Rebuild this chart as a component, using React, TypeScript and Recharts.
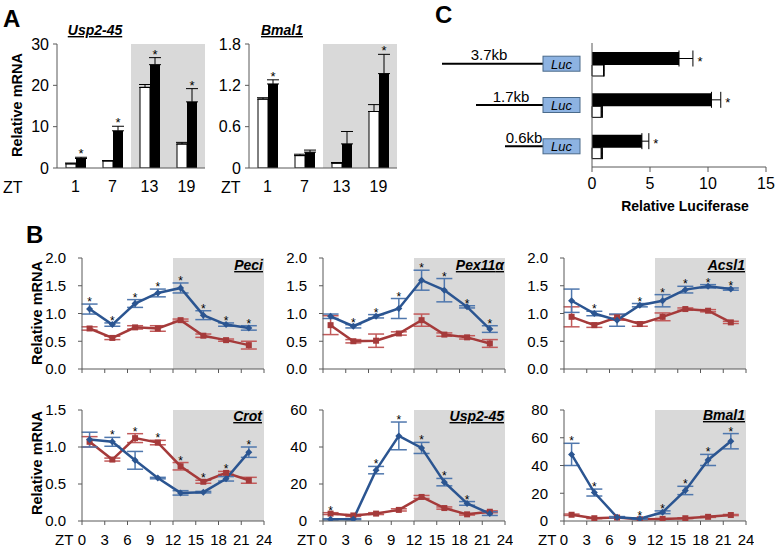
import React from "react";
import {
  BarChart, Bar, LineChart, Line, XAxis, YAxis, ErrorBar,
  ReferenceArea, LabelList,
} from "recharts";

const FONT = "'Liberation Sans', Arial, Helvetica, sans-serif";
const GREY = "#d9d9d9";
const BLUE = "#2b5591";
const BLUE_ERR = "#4f77ad";
const RED = "#a53a3a";
const RED_ERR = "#c25a5a";
const AXIS = "#595959";

// ---- panel A (bars, ZT groups) ----
const ztA = ["1", "7", "13", "19"];
const usp2White = [1.0, 1.7, 19.5, 5.8];
const usp2WhiteErr = [0.2, 0.1, 0.7, 0.4];
const usp2Black = [2.3, 9.0, 25.0, 16.0];
const usp2BlackErr = [0.3, 1.1, 1.7, 3.2];
const usp2Star = [true, true, true, true];
const bmalWhite = [1.0, 0.18, 0.07, 0.82];
const bmalWhiteErr = [0.02, 0.02, 0.01, 0.1];
const bmalBlack = [1.22, 0.23, 0.35, 1.37];
const bmalBlackErr = [0.06, 0.03, 0.18, 0.28];
const bmalStar = [true, false, false, true];

// ---- panel C (luciferase) ----
const constructs = ["3.7kb", "1.7kb", "0.6kb"];
const lucBlack = [7.5, 10.3, 4.3];
const lucBlackErr = [1.2, 0.8, 0.6];
const lucWhite = [1.0, 0.8, 0.8];
const lucWhiteErr = [0.05, 0.1, 0.1];
const lucTicks = [0, 5, 10, 15];

// ---- panel B (time courses) ----
const zt = [1, 4, 7, 10, 13, 16, 19, 22];
const ztTicks = [0, 3, 6, 9, 12, 15, 18, 21, 24];

const peciBlue = [1.08, 0.8, 1.18, 1.37, 1.46, 0.97, 0.8, 0.74];
const peciBlueErr = [0.09, 0.03, 0.07, 0.07, 0.09, 0.08, 0.03, 0.04];
const peciRed = [0.73, 0.56, 0.75, 0.73, 0.88, 0.6, 0.52, 0.43];
const peciRedErr = [0.03, 0.03, 0.03, 0.05, 0.02, 0.03, 0.02, 0.07];
const peciStar = [1, 1, 1, 1, 1, 1, 1, 1];

const pexBlue = [0.95, 0.77, 0.95, 1.09, 1.6, 1.42, 1.12, 0.72];
const pexBlueErr = [0.04, 0.03, 0.03, 0.18, 0.18, 0.21, 0.02, 0.06];
const pexRed = [0.79, 0.5, 0.51, 0.64, 0.88, 0.62, 0.57, 0.46];
const pexRedErr = [0.17, 0.03, 0.12, 0.03, 0.11, 0.03, 0.03, 0.07];
const pexStar = [0, 1, 1, 1, 1, 1, 1, 1];

const acslBlue = [1.23, 1.0, 0.88, 1.15, 1.23, 1.43, 1.49, 1.44];
const acslBlueErr = [0.21, 0.04, 0.11, 0.03, 0.11, 0.06, 0.03, 0.02];
const acslRed = [0.94, 0.79, 0.93, 0.81, 0.94, 1.08, 1.05, 0.84];
const acslRedErr = [0.18, 0.04, 0.05, 0.04, 0.07, 0.02, 0.02, 0.02];
const acslStar = [0, 1, 0, 1, 1, 1, 1, 1];

const crotBlue = [1.1, 1.07, 0.82, 0.58, 0.38, 0.39, 0.57, 0.93];
const crotBlueErr = [0.1, 0.06, 0.12, 0.01, 0.03, 0.01, 0.03, 0.07];
const crotRed = [1.07, 0.83, 1.12, 1.06, 0.74, 0.53, 0.65, 0.55];
const crotRedErr = [0.07, 0.02, 0.06, 0.03, 0.05, 0.02, 0.02, 0.04];
const crotStar = [0, 1, 1, 1, 1, 1, 1, 1];

const uspBlue = [0.9, 1.0, 27.5, 46, 39.5, 21, 9.5, 4];
const uspBlueErr = [0.3, 0.3, 2, 7.5, 3, 2, 1, 1];
const uspRed = [4, 3, 4, 6, 13, 7, 3.6, 5];
const uspRedErr = [0.5, 0.5, 0.5, 0.6, 0.8, 0.6, 0.4, 0.5];
const uspStar = [1, 0, 1, 1, 1, 1, 1, 0];

const bmalBlue = [48, 20.5, 2.7, 1.7, 6.3, 22, 44, 57.5];
const bmalBlueErr = [8, 2.5, 0.5, 0.5, 1, 3, 4, 5.5];
const bmalRed = [4.5, 2, 2.5, 1.2, 1.5, 2, 3, 4.3];
const bmalRedErr = [0.5, 0.3, 0.3, 0.2, 0.2, 0.3, 0.4, 0.4];
const bmalBStar = [1, 1, 0, 1, 1, 1, 1, 1];

const box = (p: any) => (p.viewBox && p.viewBox.width !== undefined ? p.viewBox : p);
const blank = () => "";

function BarsA({ left, white, whiteErr, black, blackErr, star, yMax, yTicks, fmt }: any) {
  const data = ztA.map((c, i) => ({
    c, i, w: white[i], we: [0, whiteErr[i]], b: black[i], be: [0, blackErr[i]], s: star[i],
  }));
  const starAbove = (p: any) => {
    const r = data[p.value];
    if (!r || !r.s) return null;
    const v = box(p);
    const k = v.height / r.b;
    return (
      <text x={v.x + v.width / 2} y={v.y - r.be[1] * k + 1} textAnchor="middle" fontSize={13} fill="#000">*</text>
    );
  };
  return (
    <div style={{ position: "absolute", left, top: 34 }}>
      <BarChart width={200} height={164} data={data} margin={{ top: 10, right: 5, left: 0, bottom: 0 }} barGap={0} barSize={10}>
        <ReferenceArea x1="13" x2="19" fill={GREY} fillOpacity={1} stroke="none" />
        {/* group-boundary tick marks */}
        <XAxis xAxisId="edge" type="number" domain={[0, 4]} ticks={[0, 1, 2, 3, 4]} height={0}
          axisLine={false} tickSize={4} stroke={AXIS} tickFormatter={blank} />
        <XAxis dataKey="c" height={30} tickLine={false} tickMargin={7} stroke={AXIS}
          tick={{ fontSize: 16, fill: "#000", fontFamily: FONT }} />
        <YAxis width={47} domain={[0, yMax]} ticks={yTicks} tickFormatter={fmt} tickSize={4} tickMargin={4}
          stroke={AXIS} tick={{ fontSize: 16, fill: "#000", fontFamily: FONT }} allowDataOverflow />
        <Bar dataKey="w" fill="#fff" stroke="#000" strokeWidth={1} isAnimationActive={false}>
          <ErrorBar dataKey="we" width={6} stroke="#000" strokeWidth={1} />
        </Bar>
        <Bar dataKey="b" fill="#000" isAnimationActive={false}>
          <ErrorBar dataKey="be" width={6} stroke="#000" strokeWidth={1} />
          <LabelList dataKey="i" content={starAbove} />
        </Bar>
      </BarChart>
    </div>
  );
}

function Luciferase() {
  const data = constructs.map((c, i) => ({
    c, i, b: lucBlack[i], be: [0, lucBlackErr[i]], w: lucWhite[i], we: [0, lucWhiteErr[i]],
  }));
  const starRight = (p: any) => {
    const r = data[p.value];
    if (!r) return null;
    const v = box(p);
    const k = v.width / r.b;
    return (
      <text x={v.x + v.width + r.be[1] * k + 7} y={v.y + v.height / 2 + 7} textAnchor="middle" fontSize={13} fill="#000">*</text>
    );
  };
  return (
    <div style={{ position: "absolute", left: 560, top: 33 }}>
      <BarChart layout="vertical" width={216} height={164} data={data} margin={{ top: 10, right: 10, left: 0, bottom: 0 }} barGap={0}>
        <XAxis type="number" domain={[0, 15]} ticks={lucTicks} height={30} tickSize={5} tickMargin={6}
          stroke={AXIS} tick={{ fontSize: 16, fill: "#000", fontFamily: FONT }} />
        <YAxis yAxisId="edge" type="number" domain={[0, 3]} ticks={[0, 1, 2, 3]} width={0}
          axisLine={false} tickSize={4} stroke={AXIS} tickFormatter={blank} />
        <YAxis type="category" dataKey="c" width={32} tick={false} stroke={AXIS} />
        <Bar dataKey="b" fill="#000" barSize={13} isAnimationActive={false}>
          <ErrorBar dataKey="be" direction="x" width={8} stroke="#000" strokeWidth={1} />
          <LabelList dataKey="i" content={starRight} />
        </Bar>
        <Bar dataKey="w" fill="#fff" stroke="#000" strokeWidth={1} barSize={11} isAnimationActive={false}>
          <ErrorBar dataKey="we" direction="x" width={6} stroke="#000" strokeWidth={1} />
        </Bar>
      </BarChart>
    </div>
  );
}

const diamond = (p: any) =>
  p.cx == null ? <g key={p.index} /> : (
    <path key={p.index} d={`M${p.cx},${p.cy - 3.5}L${p.cx + 3.5},${p.cy}L${p.cx},${p.cy + 3.5}L${p.cx - 3.5},${p.cy}Z`} fill={BLUE} />
  );
const square = (p: any) =>
  p.cx == null ? <g key={p.index} /> : (
    <rect key={p.index} x={p.cx - 3} y={p.cy - 3} width={6} height={6} fill={RED} />
  );
const starDot = (p: any) =>
  p.cx == null || p.cy == null || p.payload.sy == null ? <g key={p.index} /> : (
    <text key={p.index} x={p.cx} y={p.cy + 2} textAnchor="middle" fontSize={12} fill="#000" fontFamily={FONT}>*</text>
  );

function Course({ left, top, blue, blueErr, red, redErr, star, yMax, yTicks, fmt, showX }: any) {
  const data = zt.map((z, i) => ({
    z, b: blue[i], be: blueErr[i], r: red[i], re: redErr[i],
    sy: star[i] ? Math.max(blue[i] + blueErr[i], red[i] + redErr[i]) : null,
  }));
  const tick = { fontSize: 15, fill: "#000", fontFamily: FONT };
  return (
    <div style={{ position: "absolute", left: left - 50, top: top - 10 }}>
      <LineChart width={240} height={151} data={data} margin={{ top: 10, right: 8, left: 0, bottom: 0 }}>
        <ReferenceArea x1={12} x2={24} fill={GREY} fillOpacity={1} stroke="none" />
        <XAxis type="number" dataKey="z" domain={[0, 24]} ticks={ztTicks} interval={0} tickSize={4} tickMargin={9}
          height={30} stroke={AXIS} tick={tick} tickFormatter={showX ? undefined : blank} allowDataOverflow />
        <YAxis width={50} domain={[0, yMax]} ticks={yTicks} tickFormatter={fmt} tickSize={4} tickMargin={12}
          stroke={AXIS} tick={tick} allowDataOverflow />
        <Line dataKey="r" type="linear" stroke={RED} strokeWidth={2.5} dot={square} activeDot={false} isAnimationActive={false}>
          <ErrorBar dataKey="re" width={8} stroke={RED_ERR} strokeWidth={1.5} />
        </Line>
        <Line dataKey="b" type="linear" stroke={BLUE} strokeWidth={2.5} dot={diamond} activeDot={false} isAnimationActive={false}>
          <ErrorBar dataKey="be" width={8} stroke={BLUE_ERR} strokeWidth={1.5} />
        </Line>
        <Line dataKey="sy" stroke="none" dot={starDot} activeDot={false} isAnimationActive={false} />
      </LineChart>
    </div>
  );
}

const f1 = (v: number) => v.toFixed(1);
const f0 = (v: number) => String(v);
const unit = [0, 0.5, 1, 1.5, 2];

function GeneTitle({ x, y, children }: any) {
  return (
    <text x={x} y={y} textAnchor="end" fontSize={14} fontWeight="bold" fontStyle="italic"
      style={{ textDecoration: "underline" }} fill="#000">{children}</text>
  );
}

export default function App() {
  const rows = [63.7, 105, 146.3];
  const starts = [442, 476, 505];
  const labelX = [489, 511, 524];
  const labelY = [60, 102, 143];
  return (
    <div style={{ position: "absolute", left: 0, top: 0, width: 778, height: 547, background: "#fff", fontFamily: FONT, overflow: "hidden" }}>
      <BarsA left={10} white={usp2White} whiteErr={usp2WhiteErr} black={usp2Black} blackErr={usp2BlackErr}
        star={usp2Star} yMax={30} yTicks={[0, 10, 20, 30]} fmt={f0} />
      <BarsA left={202} white={bmalWhite} whiteErr={bmalWhiteErr} black={bmalBlack} blackErr={bmalBlackErr}
        star={bmalStar} yMax={1.8} yTicks={[0, 0.6, 1.2, 1.8]} fmt={(v: number) => (v === 0 ? "0" : v.toFixed(1))} />
      <Luciferase />

      <Course left={82} top={258} blue={peciBlue} blueErr={peciBlueErr} red={peciRed} redErr={peciRedErr} star={peciStar} yMax={2} yTicks={unit} fmt={f1} />
      <Course left={323} top={258} blue={pexBlue} blueErr={pexBlueErr} red={pexRed} redErr={pexRedErr} star={pexStar} yMax={2} yTicks={unit} fmt={f1} />
      <Course left={564} top={258} blue={acslBlue} blueErr={acslBlueErr} red={acslRed} redErr={acslRedErr} star={acslStar} yMax={2} yTicks={unit} fmt={f1} />
      <Course left={82} top={410} blue={crotBlue} blueErr={crotBlueErr} red={crotRed} redErr={crotRedErr} star={crotStar} yMax={1.5} yTicks={[0, 0.5, 1, 1.5]} fmt={f1} showX />
      <Course left={323} top={410} blue={uspBlue} blueErr={uspBlueErr} red={uspRed} redErr={uspRedErr} star={uspStar} yMax={60} yTicks={[0, 20, 40, 60]} fmt={f0} showX />
      <Course left={564} top={410} blue={bmalBlue} blueErr={bmalBlueErr} red={bmalRed} redErr={bmalRedErr} star={bmalBStar} yMax={80} yTicks={[0, 20, 40, 60, 80]} fmt={f0} showX />

      <svg width={778} height={547} style={{ position: "absolute", left: 0, top: 0, pointerEvents: "none" }} fontFamily={FONT}>
        <text x={3} y={27} fontSize={24} fontWeight="bold">A</text>
        <text x={26} y={243} fontSize={24} fontWeight="bold">B</text>
        <text x={435} y={23} fontSize={24} fontWeight="bold">C</text>

        <text x={95} y={35} textAnchor="middle" fontSize={14} fontWeight="bold" fontStyle="italic" style={{ textDecoration: "underline" }}>Usp2-45</text>
        <text x={282} y={35} textAnchor="middle" fontSize={14} fontWeight="bold" fontStyle="italic" style={{ textDecoration: "underline" }}>Bmal1</text>
        <text transform="rotate(-90 22 105)" x={22} y={105} textAnchor="middle" fontSize={14.5} fontWeight="bold">Relative mRNA</text>
        <text x={3} y={193} fontSize={16}>ZT</text>
        <text x={221} y={193} fontSize={16}>ZT</text>

        <text transform="rotate(-90 42 313)" x={42} y={313} textAnchor="middle" fontSize={14.5} fontWeight="bold">Relative mRNA</text>
        <text transform="rotate(-90 42 463)" x={42} y={463} textAnchor="middle" fontSize={14.5} fontWeight="bold">Relative mRNA</text>
        <text x={55} y={545} fontSize={15}>ZT</text>
        <text x={297} y={545} fontSize={15}>ZT</text>
        <text x={538} y={545} fontSize={15}>ZT</text>

        <GeneTitle x={263} y={270}>Peci</GeneTitle>
        <GeneTitle x={504} y={270}>Pex11<tspan>α</tspan></GeneTitle>
        <GeneTitle x={745} y={270}>Acsl1</GeneTitle>
        <GeneTitle x={262} y={421}>Crot</GeneTitle>
        <GeneTitle x={504} y={421}>Usp2-45</GeneTitle>
        <GeneTitle x={745} y={420}>Bmal1</GeneTitle>

        <text x={685} y={211} textAnchor="middle" fontSize={14} fontWeight="bold">Relative Luciferase</text>
        {constructs.map((c, i) => (
          <g key={c}>
            <line x1={starts[i]} y1={rows[i]} x2={543} y2={rows[i]} stroke="#000" strokeWidth={2} />
            <rect x={543} y={rows[i] - 7.5} width={37} height={15} fill="#8db3e2" stroke="#4a6a8a" strokeWidth={1} />
            <text x={561.5} y={rows[i] + 5} textAnchor="middle" fontSize={13} fontStyle="italic">Luc</text>
            <text x={labelX[i]} y={labelY[i]} textAnchor="middle" fontSize={15}>{c}</text>
          </g>
        ))}
      </svg>
    </div>
  );
}
